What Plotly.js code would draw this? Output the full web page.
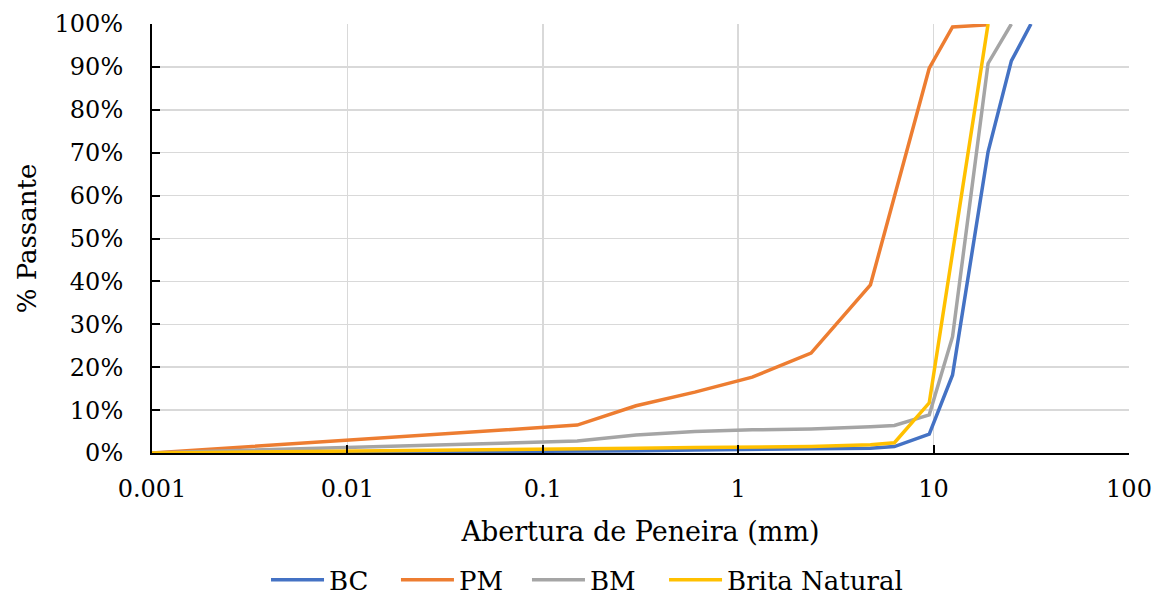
<!DOCTYPE html>
<html>
<head>
<meta charset="utf-8">
<script src="https://cdn.plot.ly/plotly-3.0.1.min.js"></script>
<style>
html,body{margin:0;padding:0;background:#fff;}
#chart{width:1164px;height:596px;}
</style>
</head>
<body>
<div id="chart"></div>
<script>
// Sieve openings (mm) and % passing
const seriesNames = ["BC", "PM", "BM", "Brita Natural"];
const bcX = [0.001, 0.15, 0.3, 0.6, 1.18, 2.36, 4.75, 6.3, 9.5, 12.5, 19, 25, 31.5];
const bcY = [0, 0.3, 0.5, 0.7, 0.8, 0.9, 1.1, 1.5, 4.4, 18.2, 70.2, 91.4, 100];
const pmX = [0.001, 0.15, 0.3, 0.6, 1.18, 2.36, 4.75, 9.5, 12.5, 19];
const pmY = [0, 6.5, 11.0, 14.2, 17.7, 23.3, 39.2, 89.7, 99.3, 99.8];
const bmX = [0.001, 0.15, 0.3, 0.6, 1.18, 2.36, 4.75, 6.3, 9.5, 12.5, 19, 25];
const bmY = [0, 2.8, 4.2, 5.0, 5.4, 5.6, 6.1, 6.4, 8.9, 27.1, 90.8, 100];
const bnX = [0.001, 0.15, 0.3, 0.6, 1.18, 2.36, 4.75, 6.3, 9.5, 19];
const bnY = [0, 0.8, 1.1, 1.3, 1.4, 1.5, 1.9, 2.4, 11.7, 100];
const xTickVals = [0.001, 0.01, 0.1, 1, 10, 100];
const xTickText = ["0.001", "0.01", "0.1", "1", "10", "100"];
const colors = ["#4472C4", "#ED7D31", "#A5A5A5", "#FFC000"];

const xs = [bcX, pmX, bmX, bnX];
const ys = [bcY, pmY, bmY, bnY];
const legendIds = ["legend", "legend2", "legend3", "legend4"];
const legendLeft = [0.1167, 0.2497, 0.3838, 0.5241];

const data = seriesNames.map((n, i) => ({
  type: "scatter", mode: "lines", name: n, x: xs[i], y: ys[i], legend: legendIds[i],
  line: {color: colors[i], width: 3.5}, hoverinfo: "skip"
}));

const layout = {
  width: 1164, height: 596,
  margin: {l: 152, r: 35, t: 24, b: 143, autoexpand: false},
  paper_bgcolor: "#fff", plot_bgcolor: "#fff",
  font: {family: "DejaVu Serif", color: "#000", size: 24},
  showlegend: true,
  xaxis: {
    type: "log", range: [-3, 2], tickvals: xTickVals, ticktext: xTickText,
    showgrid: true, gridcolor: "#d9d9d9", gridwidth: 1.5,
    showline: true, linecolor: "#000", linewidth: 2,
    ticks: "inside", ticklen: 8, tickwidth: 2, tickcolor: "#000",
    ticklabelstandoff: 13, automargin: false,
    tickfont: {size: 24},
    title: {text: "Abertura de Peneira (mm)", font: {size: 27}, standoff: 20},
    zeroline: false, fixedrange: true
  },
  yaxis: {
    range: [0, 100], dtick: 10, ticksuffix: "%",
    showgrid: true, gridcolor: "#d9d9d9", gridwidth: 1.5,
    showline: true, linecolor: "#000", linewidth: 2,
    ticks: "inside", ticklen: 8, tickwidth: 2, tickcolor: "#000",
    ticklabelstandoff: 22, automargin: false,
    tickfont: {size: 24},
    title: {text: "% Passante", font: {size: 26}, standoff: 10},
    zeroline: false, fixedrange: true
  }
};
legendIds.forEach((id, i) => {
  layout[id] = {orientation: "h", x: legendLeft[i], xanchor: "left", yref: "container",
                y: 0.027, yanchor: "middle", font: {size: 26}, itemwidth: 53,
                bgcolor: "rgba(0,0,0,0)"};
});
Plotly.newPlot("chart", data, layout, {displayModeBar: false, staticPlot: true});
</script>
</body>
</html>
